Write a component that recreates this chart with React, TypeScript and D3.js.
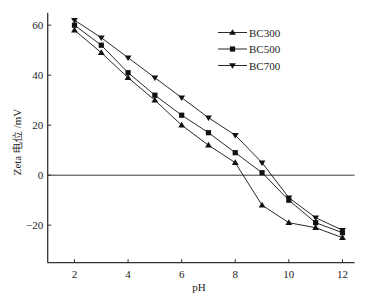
import React from "react";
import * as d3 from "d3";

const phValues = [2, 3, 4, 5, 6, 7, 8, 9, 10, 11, 12];
const bc300 = [58, 49, 39, 30, 20, 12, 5, -12, -19, -21, -25];
const bc500 = [60, 52, 41, 32, 24, 17, 9, 1, -10, -19, -23];
const bc700 = [62, 55, 47, 39, 31, 23, 16, 5, -9, -17, -22];
const seriesNames = ["BC300", "BC500", "BC700"];
const xTicks = [2, 4, 6, 8, 10, 12];
const yTicks = [-20, 0, 20, 40, 60];

const W = 373, H = 304;
const left = 47.7, right = 354.5, top = 12.7, bottom = 262.7;

const x = d3.scaleLinear().domain([1, 12.45]).range([left, right]);
const y = d3.scaleLinear().domain([-35, 65]).range([bottom, top]);

const font = "'Liberation Serif', 'Times New Roman', serif";

function Marker({ kind, cx, cy }: { kind: number; cx: number; cy: number }) {
  if (kind === 1) {
    const s = 5.2;
    return <rect x={cx - s / 2} y={cy - s / 2} width={s} height={s} fill="#111" />;
  }
  const h = 5.6, w = 3.4;
  const pts = kind === 0
    ? `${cx},${cy - h * 0.6} ${cx - w},${cy + h * 0.4} ${cx + w},${cy + h * 0.4}`
    : `${cx},${cy + h * 0.6} ${cx - w},${cy - h * 0.4} ${cx + w},${cy - h * 0.4}`;
  return <polygon points={pts} fill="#111" />;
}

export default function App() {
  const all = [bc300, bc500, bc700];
  const line = d3.line<number>().x((_, i) => x(phValues[i])).y((d) => y(d));
  return (
    <svg width={W} height={H} style={{ position: "absolute", left: 0, top: 0, background: "#fff" }}>
      <rect x={0} y={0} width={W} height={H} fill="#fff" />
      <line x1={left} x2={right} y1={y(0)} y2={y(0)} stroke="#222" strokeWidth={0.9} />
      <line x1={left} x2={left} y1={top} y2={bottom} stroke="#333" strokeWidth={1.3} />
      <line x1={left} x2={right} y1={bottom} y2={bottom} stroke="#333" strokeWidth={1.3} />
      {xTicks.map((t) => (
        <g key={"x" + t}>
          <line x1={x(t)} x2={x(t)} y1={bottom} y2={bottom - 3.5} stroke="#333" strokeWidth={1} />
          <text x={x(t)} y={bottom + 15} textAnchor="middle" fontFamily={font} fontSize={11} fill="#222">{t}</text>
        </g>
      ))}
      {yTicks.map((t) => (
        <g key={"y" + t}>
          <line x1={left} x2={left + 3.5} y1={y(t)} y2={y(t)} stroke="#333" strokeWidth={1} />
          <text x={left - 4.5} y={y(t) + 4} textAnchor="end" fontFamily={font} fontSize={11} fill="#222">{t < 0 ? "\u2212" + Math.abs(t) : t}</text>
        </g>
      ))}
      {all.map((s, k) => (
        <g key={"s" + k}>
          <path d={line(s) || ""} fill="none" stroke="#111" strokeWidth={0.9} />
          {s.map((v, i) => (
            <Marker key={i} kind={k} cx={x(phValues[i])} cy={y(v)} />
          ))}
        </g>
      ))}
      {seriesNames.map((n, k) => {
        const ly = 32.5 + k * 16.5;
        return (
          <g key={"l" + n}>
            <line x1={218} x2={247} y1={ly} y2={ly} stroke="#111" strokeWidth={0.9} />
            <Marker kind={k} cx={232.5} cy={ly} />
            <text x={249} y={ly + 4} fontFamily={font} fontSize={11} fill="#222">{n}</text>
          </g>
        );
      })}
      <text x={199} y={291} textAnchor="middle" fontFamily={font} fontSize={11} fill="#222">pH</text>
      <text transform={`translate(20.5,142) rotate(-90)`} textAnchor="middle" fontFamily={font} fontSize={11} fill="#222">
        Zeta 电位 /mV
      </text>
    </svg>
  );
}
